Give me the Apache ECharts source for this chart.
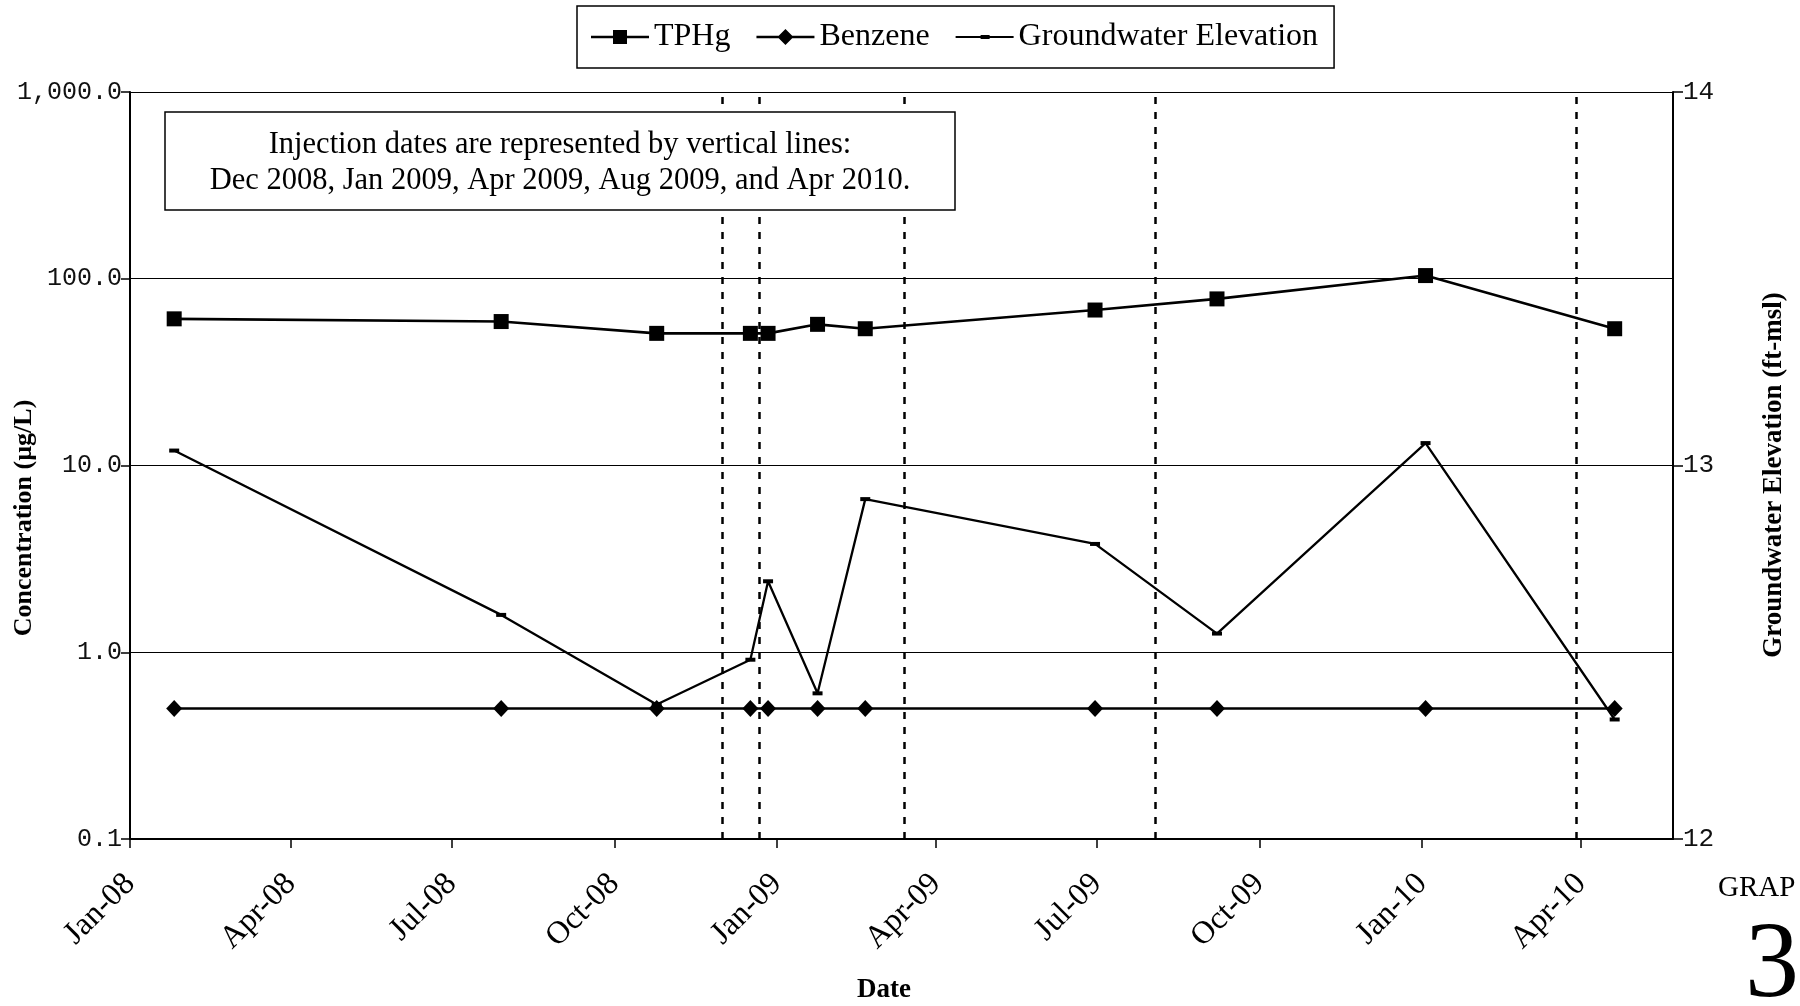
<!DOCTYPE html>
<html>
<head>
<meta charset="utf-8">
<script src="https://cdn.jsdelivr.net/npm/echarts@6/dist/echarts.min.js"></script>
<style>
html,body{margin:0;padding:0;background:#fff;}
#chart{width:1800px;height:1006px;}
</style>
</head>
<body>
<div id="chart"></div>
<script>
// ---- data ----
const sampleDates = ['2008-01-26','2008-07-29','2008-10-25','2008-12-17','2008-12-27','2009-01-24','2009-02-20','2009-06-30','2009-09-07','2010-01-03','2010-04-20'];
const tphg = [61, 59, 51, 51, 51, 57, 54, 68, 78, 104, 54];
const benzene = [0.5, 0.5, 0.5, 0.5, 0.5, 0.5, 0.5, 0.5, 0.5, 0.5, 0.5];
const gwElevation = [13.04, 12.60, 12.36, 12.48, 12.69, 12.39, 12.91, 12.79, 12.55, 13.06, 12.32];
const injectionDates = ['2008-12-01','2008-12-22','2009-03-14','2009-08-03','2010-03-29'];
const xTickDates = ['2008-01-01','2008-04-01','2008-07-01','2008-10-01','2009-01-01','2009-04-01','2009-07-01','2009-10-01','2010-01-01','2010-04-01'];
const xTickLabels = ['Jan-08','Apr-08','Jul-08','Oct-08','Jan-09','Apr-09','Jul-09','Oct-09','Jan-10','Apr-10'];
const leftTickValues = [0.1, 1, 10, 100, 1000];
const leftTickLabels = ['0.1','1.0','10.0','100.0','1,000.0'];
const rightTickLabels = ['12','13','14'];
const xMin = '2008-01-01', xMax = '2010-05-23';

// dates -> day numbers (days since 2008-01-01, UTC) so the x axis is a plain value axis
const DAY = 86400000;
const base = Date.UTC(2008, 0, 1);
const dn = d => { const p = d.split('-').map(Number); return Math.round((Date.UTC(p[0], p[1]-1, p[2]) - base) / DAY); };
const xTickDays = xTickDates.map(dn);

const chart = echarts.init(document.getElementById('chart'), null, {renderer:'canvas'});
const serif = 'Liberation Serif';
const mono = 'Liberation Mono';

// legend icons: line with the series marker
const iconTPHg = 'path://M0,6.8H58V9.2H0Z M22,1H36V15H22Z';
const iconBenzene = 'path://M0,6.8H58V9.2H0Z M29,0L37,8L29,16L21,8Z';
const iconGW = 'path://M0,7H58V9H0Z M25,6H34V10H25Z';

const option = {
  animation: false,
  backgroundColor: '#fff',
  grid: {left: 130, right: 127, top: 92, bottom: 167, show: false},
  legend: {
    left: 577, top: 6,
    padding: [15, 16, 15, 14],
    itemGap: 26,
    itemWidth: 58, itemHeight: 16,
    borderColor: '#000', borderWidth: 1.5,
    textStyle: {fontFamily: serif, fontSize: 32, color: '#000'},
    data: [
      {name: 'TPHg', icon: iconTPHg},
      {name: 'Benzene', icon: iconBenzene},
      {name: 'Groundwater Elevation', icon: iconGW}
    ]
  },
  xAxis: {
    type: 'value', min: dn(xMin), max: dn(xMax),
    axisLine: {show: true, onZero: false, lineStyle: {color: '#000', width: 2}},
    axisTick: {show: true, length: 9, lineStyle: {color: '#000', width: 1.5}, customValues: xTickDays},
    axisLabel: {
      customValues: xTickDays, rotate: 45, margin: 40,
      fontFamily: serif, fontSize: 32, color: '#000',
      formatter: v => { const i = xTickDays.indexOf(Math.round(v)); return i >= 0 ? xTickLabels[i] : ''; }
    },
    splitLine: {show: false}
  },
  yAxis: [
    {
      type: 'log', logBase: 10, min: 0.1, max: 1000,
      axisLine: {show: true, lineStyle: {color: '#000', width: 2}},
      axisTick: {show: true, length: 9, lineStyle: {color: '#000', width: 1.5}},
      axisLabel: {
        fontFamily: mono, fontSize: 25, color: '#111', margin: 8,
        formatter: v => { const i = leftTickValues.findIndex(t => Math.abs(Math.log10(t) - Math.log10(v)) < 1e-6); return i >= 0 ? leftTickLabels[i] : ''; }
      },
      splitLine: {show: true, lineStyle: {color: '#000', width: 1.2}}
    },
    {
      type: 'value', min: 12, max: 14, interval: 1, position: 'right',
      axisLine: {show: true, lineStyle: {color: '#000', width: 2}},
      axisTick: {show: true, length: 10, lineStyle: {color: '#000', width: 1.5}},
      axisLabel: {
        fontFamily: mono, fontSize: 26, color: '#111', margin: 10,
        formatter: v => rightTickLabels[Math.round(v) - 12]
      },
      splitLine: {show: false}
    }
  ],
  series: [
    {
      name: 'TPHg', type: 'line', yAxisIndex: 0,
      data: sampleDates.map((d, i) => [dn(d), tphg[i]]),
      symbol: 'rect', symbolSize: 15,
      lineStyle: {color: '#000', width: 2.6},
      itemStyle: {color: '#000'}, z: 5
    },
    {
      name: 'Benzene', type: 'line', yAxisIndex: 0,
      data: sampleDates.map((d, i) => [dn(d), benzene[i]]),
      symbol: 'diamond', symbolSize: [16, 17],
      lineStyle: {color: '#000', width: 2.6},
      itemStyle: {color: '#000'}, z: 5,
      markLine: {
        silent: true, symbol: ['none','none'], label: {show: false},
        lineStyle: {color: '#000', width: 2.5, type: [7, 8]},
        data: injectionDates.map(d => ({xAxis: dn(d)}))
      }
    },
    {
      name: 'Groundwater Elevation', type: 'line', yAxisIndex: 1,
      data: sampleDates.map((d, i) => [dn(d), gwElevation[i]]),
      symbol: 'rect', symbolSize: [10, 4],
      lineStyle: {color: '#000', width: 2.3},
      itemStyle: {color: '#000'}, z: 5
    }
  ],
  graphic: [
    {
      type: 'group', z: 100,
      children: [
        {type: 'rect', shape: {x: 165, y: 112, width: 790, height: 98},
         style: {fill: '#fff', stroke: '#000', lineWidth: 1.5}, z: 100},
        {type: 'text', x: 560, y: 145, z: 101,
         style: {text: 'Injection dates are represented by vertical lines:', fontFamily: serif, fontSize: 30.5, fill: '#000', align: 'center', verticalAlign: 'middle'}},
        {type: 'text', x: 560, y: 181, z: 101,
         style: {text: 'Dec 2008, Jan 2009, Apr 2009, Aug 2009, and Apr 2010.', fontFamily: serif, fontSize: 30.5, fill: '#000', align: 'center', verticalAlign: 'middle'}}
      ]
    },
    {type: 'text', x: 24, y: 518, rotation: Math.PI/2, z: 100,
     style: {text: 'Concentration (µg/L)', fontFamily: serif, fontWeight: 'bold', fontSize: 26, fill: '#000', align: 'center', verticalAlign: 'middle'}},
    {type: 'text', x: 1774, y: 475, rotation: Math.PI/2, z: 100,
     style: {text: 'Groundwater Elevation (ft-msl)', fontFamily: serif, fontWeight: 'bold', fontSize: 27, fill: '#000', align: 'center', verticalAlign: 'middle'}},
    {type: 'text', x: 884, y: 990, z: 100,
     style: {text: 'Date', fontFamily: serif, fontWeight: 'bold', fontSize: 27, fill: '#000', align: 'center', verticalAlign: 'middle'}},
    {type: 'text', x: 1718, y: 888, z: 100,
     style: {text: 'GRAP', fontFamily: serif, fontSize: 29, fill: '#000', align: 'left', verticalAlign: 'middle'}},
    {type: 'text', x: 1772, y: 968, z: 100,
     style: {text: '3', fontFamily: serif, fontSize: 108, fill: '#000', align: 'center', verticalAlign: 'middle'}}
  ]
};
chart.setOption(option);
</script>
</body>
</html>
